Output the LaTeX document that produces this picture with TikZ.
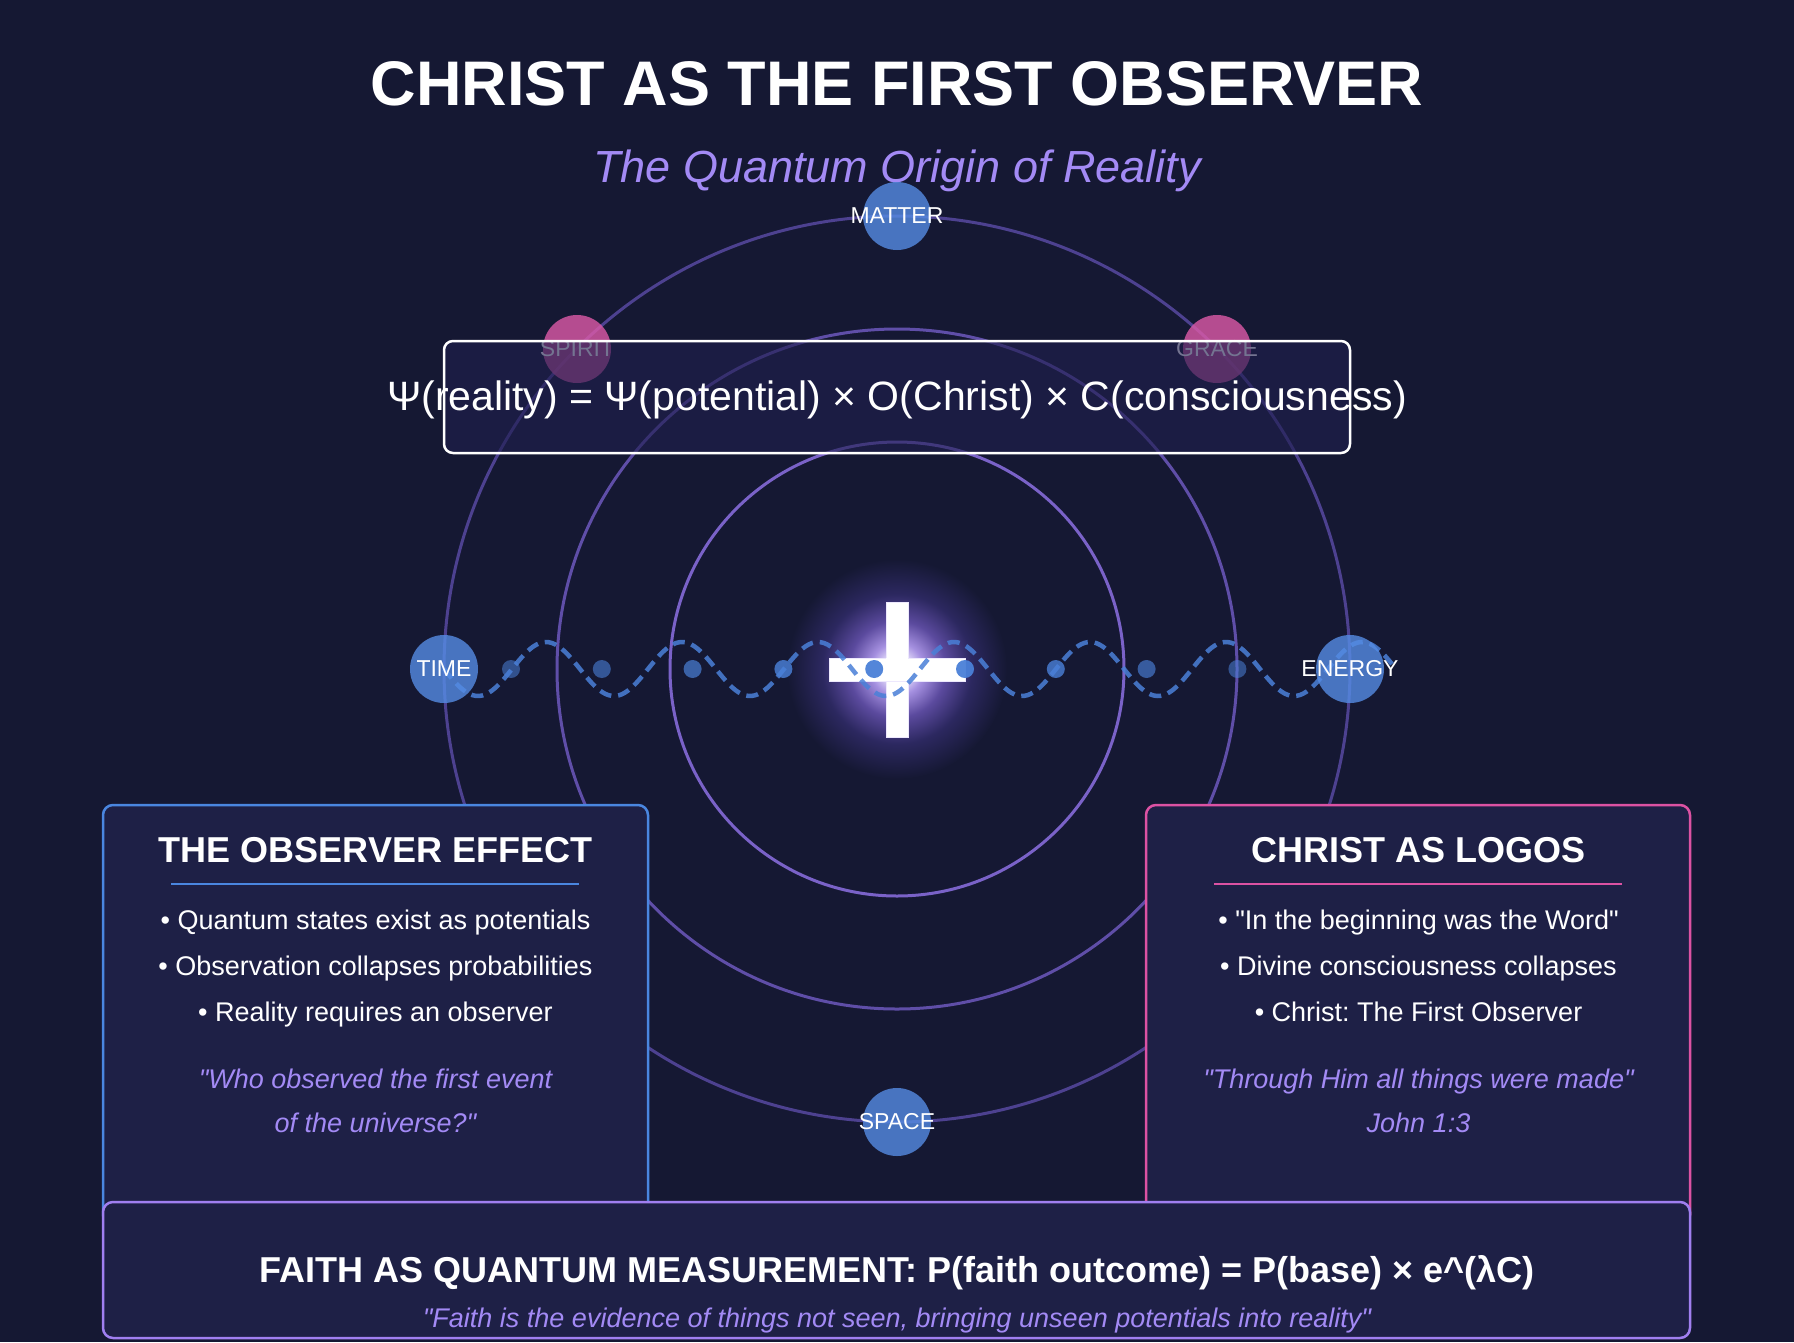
\documentclass[tikz,border=0pt]{standalone}
\usepackage{fontspec}
\setmainfont{Liberation Sans}

% plain fonts without the TeX text mapping, for straight double quotes
\font\qreg="Liberation Sans" at 27pt
\font\qit="Liberation Sans/I" at 27pt
\newcommand{\dq}{{\qreg\char34}}
\newcommand{\dqi}{{\qit\char34}}

\definecolor{bgc}{HTML}{151833}
\definecolor{panelfill}{HTML}{1E2046}
\definecolor{eqfill}{HTML}{1F1F4E}
\definecolor{lav}{HTML}{A38AF5}
\definecolor{ringin}{HTML}{7A62C8}
\definecolor{ringmid}{HTML}{5F4EA8}
\definecolor{ringout}{HTML}{4D4190}
\definecolor{orbblue}{HTML}{558CE4}
\definecolor{orbpink}{HTML}{DD5AA8}
\definecolor{wavec}{HTML}{4A80D8}
\definecolor{edgeblue}{HTML}{4A86E0}
\definecolor{edgepink}{HTML}{DC52A3}
\definecolor{edgepurple}{HTML}{A07FF0}
\definecolor{glowcore}{HTML}{F0ECFF}
\definecolor{glowmid}{HTML}{A590E0}
\definecolor{glowlow}{HTML}{5B4A9E}
\definecolor{glowout}{HTML}{2C2860}

\pgfdeclareradialshading{crossglow}{\pgfpoint{0bp}{0bp}}{%
  color(0bp)=(white); color(2.5bp)=(glowcore); color(6bp)=(glowmid);
  color(11bp)=(glowlow); color(17bp)=(glowout); color(25bp)=(bgc); color(50bp)=(bgc)}

\newcommand{\fsz}[1]{\fontsize{#1}{#1}\selectfont}

\begin{document}
\frenchspacing
\begin{tikzpicture}[x=1pt,y=-1pt,
  txt/.style={anchor=base, inner sep=0pt, text=white},
  ring/.style={line width=3pt},
  orb/.style={circle, minimum size=68pt, inner sep=0pt, fill opacity=0.8, draw=none},
  orbtxt/.style={inner sep=0pt, text=white, font=\fsz{23}, text opacity=1},
  panel/.style={rounded corners=10pt, line width=2.5pt, fill=panelfill, inner sep=0pt},
  wave/.style={draw=wavec, draw opacity=0.85, line width=4.5pt, dash pattern=on 12pt off 7pt},
  head/.style={txt, font=\bfseries\fsz{36}},
  item/.style={txt, font=\fsz{27}},
  quote/.style={txt, text=lav, font=\itshape\fsz{27}}]

% background and page frame
\fill[bgc] (0,0) rectangle (1794,1342);
\useasboundingbox (0,0) rectangle (1794,1342);

% heading
\node[txt, font=\bfseries\fsz{63}] (title) at (897,105) {CHRIST AS THE FIRST OBSERVER};
\node[txt, text=lav, font=\itshape\fsz{45}] (subtitle) at (897,182) {The Quantum Origin of Reality};

% concentric rings
\coordinate (O) at (897,669);
\draw[ring, draw=ringout] (O) circle (453pt);
\draw[ring, draw=ringmid] (O) circle (340pt);
\draw[ring, draw=ringin] (O) circle (227pt);

% glowing cross
\shade[shading=crossglow] (O) circle (110pt);
\node[rectangle, fill=white, draw=white!80!lav, line width=0.8pt, minimum width=22pt, minimum height=135pt, inner sep=0pt] (crossv) at (897,669.5) {};
\node[rectangle, fill=white, draw=white!80!lav, line width=0.8pt, minimum width=136pt, minimum height=23pt, inner sep=0pt] (crossh) at (897,669.5) {};
\fill[white] (886.4,658.4) rectangle (907.6,680.6);

% wave of potentials (phase step 360/136 degrees per unit)
\draw[wave] plot[domain=0:948, samples=300, smooth] ({444+\x}, {669+27*sin(2.64706*\x)});
\foreach \k/\op in {0/0.55,1/0.6,2/0.7,3/0.82,4/0.95,5/0.95,6/0.8,7/0.65,8/0.55}
  \fill[wavec, opacity=\op] ({511+90.8*\k},669) circle (9pt);

% orbiting aspects
\node[orb, fill=orbblue, label={[orbtxt]center:MATTER}] (matter) at (897,216) {};
\node[orb, fill=orbpink, label={[orbtxt]center:SPIRIT}] (spirit) at (577,349) {};
\node[orb, fill=orbpink, label={[orbtxt]center:GRACE}] (grace) at (1217,349) {};
\node[orb, fill=orbblue, label={[orbtxt]center:TIME}] (time) at (444,669) {};
\node[orb, fill=orbblue, label={[orbtxt]center:ENERGY}] (energy) at (1350,669) {};
\node[orb, fill=orbblue, label={[orbtxt]center:SPACE}] (space) at (897,1122) {};

% equation banner
\node[draw=white, line width=2.5pt, rounded corners=9pt, fill=eqfill, fill opacity=0.62,
      minimum width=906pt, minimum height=112pt, inner sep=0pt] (eqbox) at (897,397) {};
\node[txt, font=\fsz{41}] (eq) at (897,410) {Ψ(reality) = Ψ(potential) × O(Christ) × C(consciousness)};

% left panel
\node[panel, draw=edgeblue, minimum width=545pt, minimum height=420pt] (observer) at (375.5,1015) {};
\node[head] (obshead) at (375.5,862) {THE OBSERVER EFFECT};
\draw[edgeblue, line width=2pt] (171,884) -- (579,884);
\node[item] (obs1) at (375.5,929) {• Quantum states exist as potentials};
\node[item] (obs2) at (375.5,975) {• Observation collapses probabilities};
\node[item] (obs3) at (375.5,1021) {• Reality requires an observer};
\node[quote] (obsq1) at (375.5,1088) {\dqi Who observed the first event};
\node[quote] (obsq2) at (375.5,1132) {of the universe?\dqi};

% right panel
\node[panel, draw=edgepink, minimum width=544pt, minimum height=420pt] (logos) at (1418,1015) {};
\node[head] (loghead) at (1418.5,862) {CHRIST AS LOGOS};
\draw[edgepink, line width=2pt] (1214,884) -- (1622,884);
\node[item] (log1) at (1418.5,929) {• \dq In the beginning was the Word\dq};
\node[item] (log2) at (1418.5,975) {• Divine consciousness collapses};
\node[item] (log3) at (1418.5,1021) {• Christ: The First Observer};
\node[quote] (logq1) at (1418.5,1088) {\dqi Through Him all things were made\dqi};
\node[quote] (logq2) at (1418.5,1132) {John 1:3};

% bottom panel
\node[panel, draw=edgepurple, minimum width=1587pt, minimum height=136pt] (faith) at (896.5,1270) {};
\node[txt, font=\bfseries\fsz{36}] (faithhead) at (897,1282) {FAITH AS QUANTUM MEASUREMENT: P(faith outcome) = P(base) × e\textasciicircum(λC)};
\node[quote] (faithq) at (897,1327) {\dqi Faith is the evidence of things not seen, bringing unseen potentials into reality\dqi};

\end{tikzpicture}
\end{document}
